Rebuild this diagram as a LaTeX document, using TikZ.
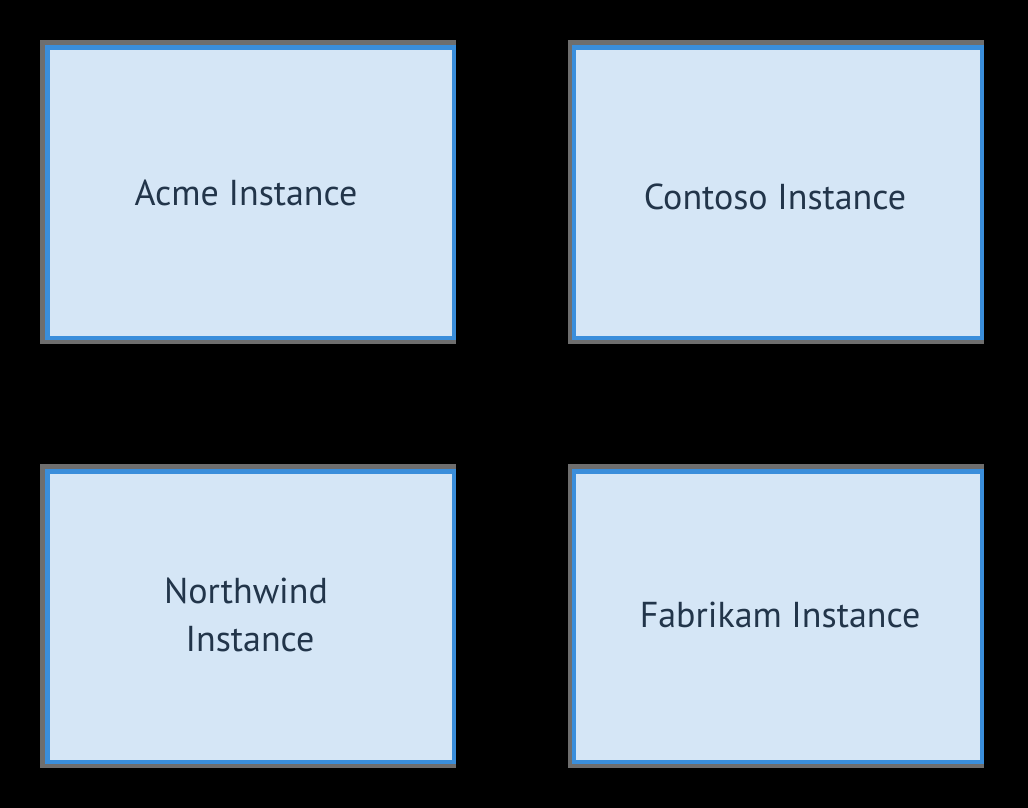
\documentclass[tikz,border=0pt]{standalone}
\usepackage{fontspec}
\setmainfont{PT Sans}
\definecolor{bgblack}{HTML}{000000}
\definecolor{shadowgray}{HTML}{6E6E6E}
\definecolor{boxblue}{HTML}{3A8EDB}
\definecolor{boxfill}{HTML}{D5E6F6}
\definecolor{txt}{HTML}{22354A}
\tikzset{
  shadowbox/.style={fill=shadowgray, draw=none},
  instbox/.style={fill=boxfill, draw=boxblue, line width=4.5pt},
  label/.style={text=txt, font=\fontsize{36}{48}\selectfont, align=center, inner sep=0pt},
}
\begin{document}
\begin{tikzpicture}[x=1pt,y=-1pt]
\fill[bgblack] (0,0) rectangle (1028,808);
\useasboundingbox (0,0) rectangle (1028,808);
% Acme
\fill[shadowbox] (40,40) rectangle (456,344);
\draw[instbox] (47.5,47.5) rectangle (454,338);
\node[label] (acme) at (246,193) {Acme Instance};
% Contoso
\fill[shadowbox] (568,40) rectangle (984,344);
\draw[instbox] (574,47.5) rectangle (982,338);
\node[label] (contoso) at (775,197) {Contoso Instance};
% Northwind
\fill[shadowbox] (40,464) rectangle (456,768);
\draw[instbox] (47.5,471.5) rectangle (454,762);
\node[label] (northwind1) at (246,591) {Northwind};
\node[label] (northwind2) at (250,639) {Instance};
% Fabrikam
\fill[shadowbox] (568,464) rectangle (984,768);
\draw[instbox] (574,471.5) rectangle (982,762);
\node[label] (fabrikam) at (780,615) {Fabrikam Instance};
\end{tikzpicture}
\end{document}
